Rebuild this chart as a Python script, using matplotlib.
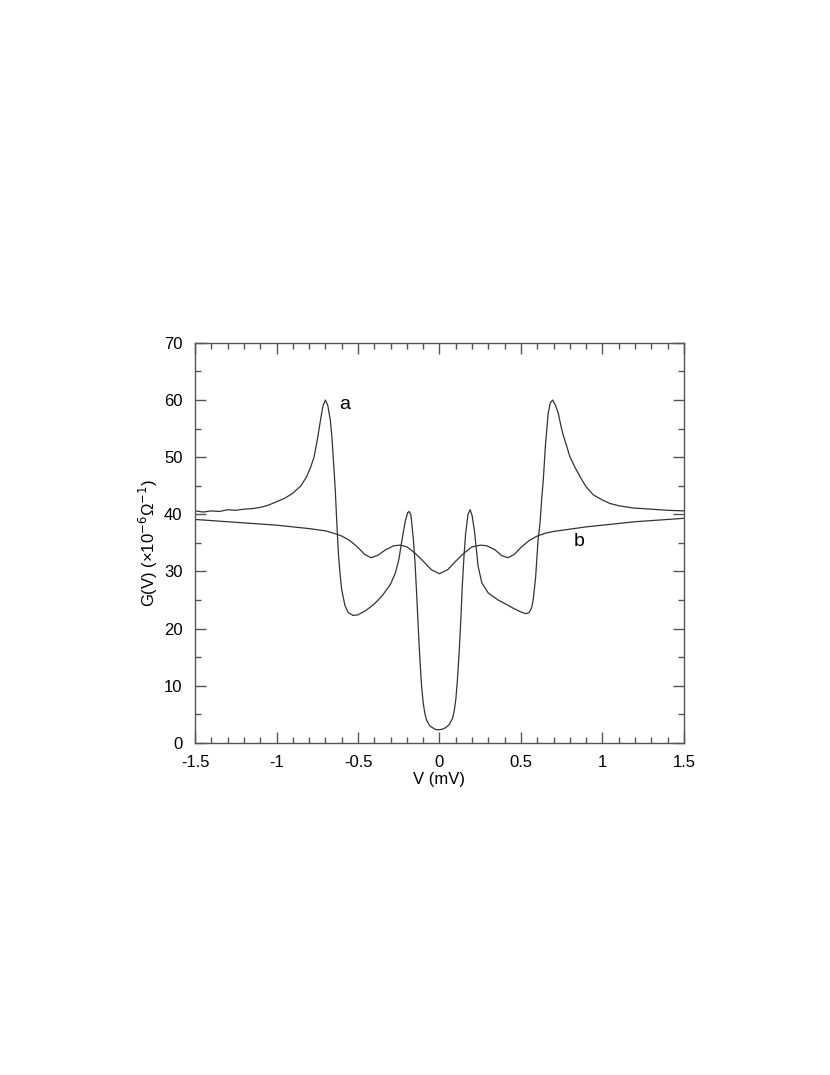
import matplotlib
matplotlib.use("Agg")
import matplotlib.pyplot as plt
from matplotlib.ticker import MultipleLocator

plt.rcParams['font.family'] = ['Liberation Sans', 'DejaVu Sans']
plt.rcParams['font.size'] = 12

# curve a (V in mV, G in 1e-6 / ohm)
va = [-1.5, -1.45, -1.4, -1.35, -1.3, -1.25, -1.2, -1.15, -1.1, -1.05, -1.0, -0.95,
      -0.9, -0.85, -0.815, -0.79, -0.77, -0.75, -0.73, -0.715, -0.70, -0.685, -0.67,
      -0.66, -0.65, -0.64, -0.63, -0.62, -0.61, -0.60, -0.58, -0.56, -0.53, -0.50,
      -0.45, -0.40, -0.35, -0.30, -0.27, -0.25, -0.23, -0.21, -0.195, -0.185, -0.175,
      -0.16, -0.15, -0.14, -0.13, -0.12, -0.11, -0.10, -0.09, -0.08, -0.06, -0.04,
      -0.02, 0.0, 0.02, 0.04, 0.06, 0.08, 0.09, 0.10, 0.11, 0.12, 0.13, 0.14, 0.15,
      0.16, 0.175, 0.188, 0.20, 0.215, 0.237, 0.26, 0.30, 0.36, 0.40, 0.45, 0.50,
      0.53, 0.55, 0.565, 0.575, 0.59, 0.605, 0.617, 0.628, 0.637, 0.65, 0.667, 0.68,
      0.694, 0.71, 0.729, 0.745, 0.76, 0.78, 0.80, 0.83, 0.862, 0.90, 0.944, 1.0,
      1.046, 1.1, 1.19, 1.3, 1.4, 1.5]
ga = [40.6, 40.4, 40.6, 40.5, 40.8, 40.7, 40.9, 41.0, 41.2, 41.6, 42.2, 42.8,
      43.7, 45.0, 46.6, 48.3, 50.0, 53.0, 56.5, 59.0, 60.0, 59.0, 56.5,
      53.5, 49.0, 44.5, 38.5, 33.0, 29.5, 26.8, 24.0, 22.8, 22.3, 22.4,
      23.2, 24.3, 25.8, 27.8, 29.8, 32.0, 35.5, 38.8, 40.3, 40.5, 39.8,
      35.5, 31.5, 26.0, 20.0, 14.5, 10.0, 7.0, 5.2, 4.0, 3.0, 2.6,
      2.3, 2.3, 2.4, 2.7, 3.2, 4.3, 5.5, 7.5, 11.0, 15.5, 21.0, 27.5, 32.5,
      36.5, 40.0, 40.8, 39.8, 37.0, 30.9, 28.0, 26.2, 25.0, 24.4, 23.6, 22.9,
      22.6, 22.8, 23.6, 25.0, 29.0, 35.5, 38.5, 43.0, 46.0, 52.0, 57.7, 59.5,
      60.0, 59.2, 57.7, 55.5, 53.8, 52.0, 50.1, 48.3, 46.6, 44.8, 43.4, 42.5,
      41.9, 41.5, 41.1, 40.9, 40.7, 40.6]

# curve b
vb = [-1.5, -1.4, -1.3, -1.2, -1.1, -1.0, -0.9, -0.8, -0.7, -0.65, -0.6, -0.55,
      -0.5, -0.46, -0.42, -0.38, -0.33, -0.28, -0.24, -0.2, -0.15, -0.1, -0.05,
      0.0, 0.05, 0.1, 0.15, 0.2, 0.25, 0.29, 0.34, 0.38, 0.42, 0.46, 0.5, 0.55,
      0.6, 0.65, 0.7, 0.8, 0.9, 1.0, 1.1, 1.2, 1.3, 1.4, 1.5]
gb = [39.1, 38.9, 38.7, 38.5, 38.3, 38.1, 37.8, 37.5, 37.1, 36.7, 36.2, 35.4,
      34.2, 33.0, 32.4, 32.8, 33.8, 34.5, 34.6, 34.3, 33.2, 31.8, 30.3,
      29.6, 30.3, 31.8, 33.2, 34.3, 34.6, 34.5, 33.8, 32.8, 32.4, 33.0, 34.2, 35.4,
      36.2, 36.7, 37.0, 37.4, 37.8, 38.1, 38.4, 38.7, 38.9, 39.1, 39.3]

xticks = [-1.5, -1, -0.5, 0, 0.5, 1, 1.5]
xticklabels = ['-1.5', '-1', '-0.5', '0', '0.5', '1', '1.5']

fig = plt.figure(figsize=(8.3, 10.75), dpi=100)
ax = fig.add_axes([0.235, 0.309, 0.589, 0.372])

ax.plot(va, ga, color='#333333', lw=0.9)
ax.plot(vb, gb, color='#333333', lw=0.9)

ax.text(-0.58, 59.2, 'a', fontsize=14, ha='center', va='center')
ax.text(0.858, 35.2, 'b', fontsize=14, ha='center', va='center')

ax.set_xlim(-1.5, 1.5)
ax.set_ylim(0, 70)
ax.xaxis.set_minor_locator(MultipleLocator(0.1))
ax.yaxis.set_major_locator(MultipleLocator(10))
ax.yaxis.set_minor_locator(MultipleLocator(5))
ax.set_xticks(xticks)
ax.set_xticklabels(xticklabels)
ax.tick_params(which='both', direction='in', top=True, right=True, color='#555555', labelsize=12)
ax.tick_params(which='major', length=8, width=1)
ax.tick_params(which='minor', length=4, width=1)
ax.tick_params(axis='x', which='major', pad=9)
ax.tick_params(axis='y', which='major', pad=9)
for s in ax.spines.values():
    s.set_color('#555555')
    s.set_linewidth(1)

ax.set_xlabel('V (mV)', fontsize=12, labelpad=1)
ax.set_ylabel('G(V) (×10$^{-6}$Ω$^{-1}$)', fontsize=12, labelpad=3)

fig.savefig('out.png', dpi=100)
